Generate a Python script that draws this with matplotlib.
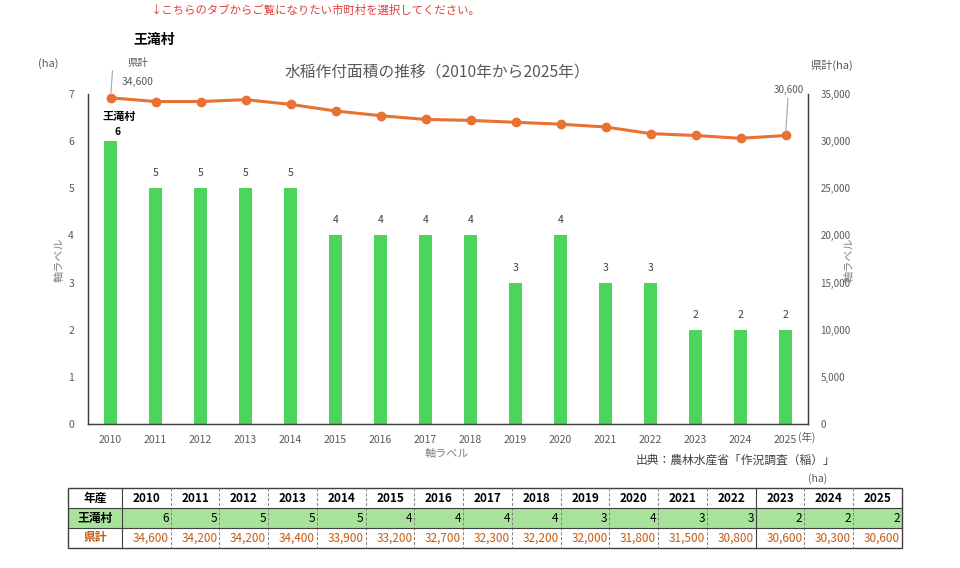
import numpy as np
import matplotlib
import matplotlib.pyplot as plt
from matplotlib.patches import Rectangle

matplotlib.use("Agg")

plt.rcParams["font.family"] = ["Noto Sans CJK JP", "DejaVu Sans"]

years = [2010, 2011, 2012, 2013, 2014, 2015, 2016, 2017,
         2018, 2019, 2020, 2021, 2022, 2023, 2024, 2025]
village = [6, 5, 5, 5, 5, 4, 4, 4, 4, 3, 4, 3, 3, 2, 2, 2]
prefecture = [34600, 34200, 34200, 34400, 33900, 33200, 32700, 32300,
              32200, 32000, 31800, 31500, 30800, 30600, 30300, 30600]
village_name = "王滝村"
pref_name = "県計"

W, H = 960, 568
GREEN = "#4cd45c"
ORANGE = "#e97132"
GRAY = "#595959"
BROWN = "#c55a11"

fig = plt.figure(figsize=(W / 100, H / 100), dpi=100)

def fx(px):
    return px / W

def fy(py):
    return 1 - py / H

# main chart
ax = fig.add_axes([fx(88), fy(424), 720 / W, 330 / H])
x = np.arange(len(years))
ax.bar(x, village, width=0.31, color=GREEN, zorder=2)
ax.set_xlim(-0.5, len(years) - 0.5)
ax.set_ylim(0, 7)
ax.set_xticks(x, [str(y) for y in years])
ax.tick_params(length=0, colors=GRAY, labelsize=7.5, pad=8)
ax.tick_params(axis="y", pad=10)
for s in ["left", "bottom", "right"]:
    ax.spines[s].set_color("#404040")
    ax.spines[s].set_linewidth(1.0)
ax.spines["top"].set_visible(False)

for i, v in enumerate(village):
    if i == 0:
        ax.annotate(str(v), (x[i], v), xytext=(4, 4), textcoords="offset pixels",
                    ha="left", va="bottom", fontsize=7.5, fontweight="bold", color="black")
        ax.annotate(village_name, (x[i], v), xytext=(-8, 18), textcoords="offset pixels",
                    ha="left", va="bottom", fontsize=8, fontweight="bold", color="black")
    else:
        ax.annotate(str(v), (x[i], v), xytext=(0, 10), textcoords="offset pixels",
                    ha="center", va="bottom", fontsize=7.5, color="#404040")

ax2 = ax.twinx()
ax2.plot(x, prefecture, color=ORANGE, lw=2.2, marker="o", ms=6, zorder=3)
ax2.set_ylim(0, 35000)
ax2.set_yticks(np.arange(0, 35001, 5000))
ax2.yaxis.set_major_formatter(matplotlib.ticker.FuncFormatter(lambda v, p: f"{int(v):,}"))
ax2.tick_params(length=0, colors=GRAY, labelsize=7, pad=9)
for s in ["left", "bottom", "right"]:
    ax2.spines[s].set_color("#404040")
ax2.spines["top"].set_visible(False)

# leader-line labels on the prefecture line
ax2.annotate("", (x[0], prefecture[0]), xytext=(2, 27), textcoords="offset pixels",
             arrowprops=dict(arrowstyle="-", color="#a6a6a6", lw=0.8, shrinkA=0, shrinkB=3))
ax2.annotate(pref_name, (x[0], prefecture[0]), xytext=(17, 30), textcoords="offset pixels",
             ha="left", va="bottom", fontsize=7.5, color=GRAY)
ax2.annotate(f"{prefecture[0]:,}", (x[0], prefecture[0]), xytext=(11, 11), textcoords="offset pixels",
             ha="left", va="bottom", fontsize=7.5, color=GRAY)
ax2.annotate(f"{prefecture[-1]:,}", (x[-1], prefecture[-1]), xytext=(3, 40), textcoords="offset pixels",
             ha="center", va="bottom", fontsize=7, color=GRAY,
             arrowprops=dict(arrowstyle="-", color="#a6a6a6", lw=0.8, shrinkA=0, shrinkB=3))

# texts around the chart
fig.text(fx(150), fy(10), "↓こちらのタブからご覧になりたい市町村を選択してください。",
         fontsize=8.2, color="#e0403a", ha="left", va="center")
fig.text(fx(133), fy(40), village_name, fontsize=10, fontweight="bold", ha="left", va="center")
fig.text(fx(437), fy(72), "水稲作付面積の推移（2010年から2025年）", fontsize=11.3,
         color=GRAY, ha="center", va="center")
fig.text(fx(48), fy(64), "(ha)", fontsize=8, color=GRAY, ha="center", va="center")
fig.text(fx(832), fy(65), "県計(ha)", fontsize=8, color=GRAY, ha="center", va="center")
fig.text(fx(60), fy(260), "軸ラベル", fontsize=8, color="#808080", rotation=90, ha="center", va="center")
fig.text(fx(850), fy(260), "軸ラベル", fontsize=8, color="#808080", rotation=90, ha="center", va="center")
fig.text(fx(447), fy(454), "軸ラベル", fontsize=8, color="#808080", ha="center", va="center")
fig.text(fx(807), fy(437), "(年)", fontsize=7.5, color=GRAY, ha="center", va="center")
fig.text(fx(835), fy(460), "出典：農林水産省「作況調査（稲）」", fontsize=8.5, color="#404040",
         ha="right", va="center")
fig.text(fx(818), fy(479), "(ha)", fontsize=7.5, color=GRAY, ha="center", va="center")

# data table
tx0, tx1, ty0, ty1 = 68, 902, 488, 548
tax = fig.add_axes([fx(tx0), fy(ty1), (tx1 - tx0) / W, (ty1 - ty0) / H])
tax.set_xlim(0, tx1 - tx0)
tax.set_ylim(ty1 - ty0, 0)
tax.axis("off")
first_w = 54
col_w = (tx1 - tx0 - first_w) / len(years)
edges = [0, first_w] + [first_w + col_w * (i + 1) for i in range(len(years))]
row_h = (ty1 - ty0) / 3

tax.add_patch(Rectangle((0, row_h), tx1 - tx0, row_h, color="#a9e29b", lw=0))
header = ["年産"] + [str(y) for y in years]
row1 = [village_name] + [str(v) for v in village]
row2 = [pref_name] + [f"{v:,}" for v in prefecture]
for c in range(len(header)):
    cx = (edges[c] + edges[c + 1]) / 2
    tax.text(cx, row_h * 0.5, header[c], ha="center", va="center", fontsize=8.5, fontweight="bold")
    if c == 0:
        tax.text(cx, row_h * 1.5, row1[c], ha="center", va="center", fontsize=8.5, fontweight="bold")
        tax.text(cx, row_h * 2.5, row2[c], ha="center", va="center", fontsize=8.5,
                 fontweight="bold", color=BROWN)
    else:
        tax.text(edges[c + 1] - 2, row_h * 1.5, row1[c], ha="right", va="center", fontsize=8.5)
        tax.text(edges[c + 1] - 2, row_h * 2.5, row2[c], ha="right", va="center", fontsize=8.5,
                 color=BROWN)

for e in edges[1:-1]:
    tax.plot([e, e], [0, row_h * 3], color="#7f7f7f", lw=0.7, ls=(0, (3, 2)), clip_on=False)
tax.plot([edges[1], edges[1]], [0, row_h * 3], color="#404040", lw=0.8, clip_on=False)
tax.plot([edges[14], edges[14]], [0, row_h * 3], color="#404040", lw=0.8, clip_on=False)
tax.plot([0, tx1 - tx0], [row_h, row_h], color="#404040", lw=0.8, clip_on=False)
tax.plot([0, tx1 - tx0], [row_h * 2, row_h * 2], color="#404040", lw=0.8, clip_on=False)
tax.add_patch(Rectangle((0, 0), tx1 - tx0, row_h * 3, fill=False, ec="#404040", lw=1.0,
                        clip_on=False))

fig.savefig("out.png", dpi=100)
